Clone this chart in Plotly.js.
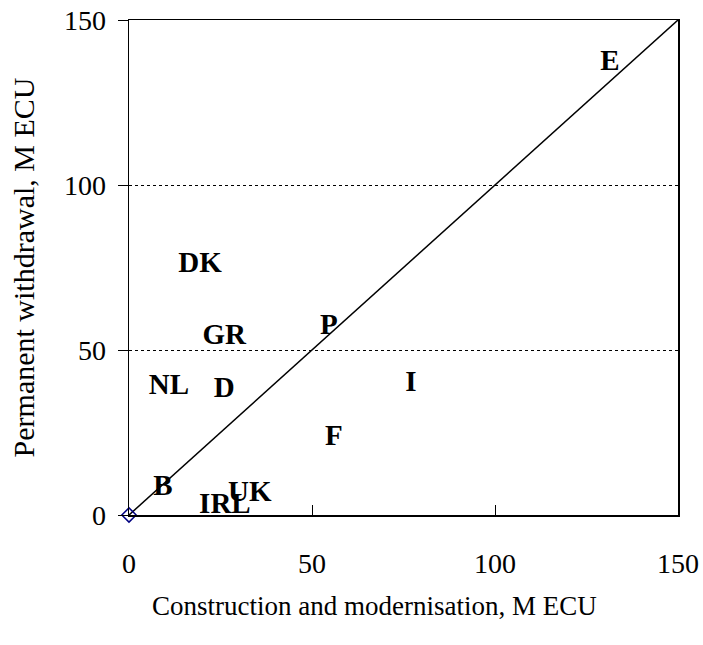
<!DOCTYPE html>
<html>
<head>
<meta charset="utf-8">
<script src="https://cdn.plot.ly/plotly-3.0.1.min.js"></script>
<style>html,body{margin:0;padding:0;background:#fff;}#chart{width:703px;height:645px;}</style>
</head>
<body>
<div id="chart"></div>
<script>
const countries = ['E','DK','GR','P','NL','D','I','F','B','IRL','UK'];
const construction = [131.4, 19.4, 26, 54.6, 10.9, 26, 77, 56, 9.3, 26.2, 33];
const withdrawal = [137, 75.8, 54, 57, 38.8, 37.9, 39.7, 23.3, 8.2, 2.7, 6.4];
const diagX = [0, 153];
const diagY = [0, 153];
const originX = [0];
const originY = [0];
const xTicks = [0, 50, 100, 150];
const yTicks = [0, 50, 100, 150];
const xTitle = 'Construction and modernisation, M ECU';
const yTitle = 'Permanent withdrawal, M ECU';

const serif = '"Liberation Serif", "Times New Roman", serif';

const traces = [
  {x: diagX, y: diagY, mode: 'lines', line: {color: '#000', width: 1.5}, hoverinfo: 'skip', cliponaxis: false},
  {x: originX, y: originY, mode: 'markers', marker: {symbol: 'diamond-open', size: 11, color: '#000080', line: {width: 1.5}}, cliponaxis: false},
  {x: construction, y: withdrawal, mode: 'text', text: countries, cliponaxis: false,
   textfont: {family: serif, size: 29, color: '#000', weight: 'bold'}}
];

const layout = {
  width: 703, height: 645,
  margin: {l: 129, r: 25, t: 20, b: 130},
  showlegend: false,
  paper_bgcolor: '#fff', plot_bgcolor: '#fff',
  font: {family: serif, size: 27, color: '#000'},
  xaxis: {
    range: [0, 150], tickvals: xTicks, ticktext: xTicks.map(String),
    showline: true, linecolor: '#000', linewidth: 1.5, mirror: true,
    ticks: 'inside', ticklen: 10, tickcolor: '#000', tickwidth: 1,
    showgrid: false, zeroline: false, ticklabelstandoff: 23,
    tickfont: {family: serif, size: 28}
  },
  yaxis: {
    range: [0, 150], tickvals: yTicks, ticktext: yTicks.map(String),
    showline: true, linecolor: '#000', linewidth: 1.5, mirror: true,
    ticks: 'outside', ticklen: 10, tickcolor: '#000', tickwidth: 1,
    showgrid: true, gridcolor: '#000', griddash: 'dot', gridwidth: 1,
    zeroline: false, ticklabelstandoff: 6,
    tickfont: {family: serif, size: 28},
    title: {text: yTitle, font: {family: serif, size: 30}, standoff: 20}
  },
  annotations: [
    {text: xTitle, xref: 'paper', yref: 'paper', x: 0.448, y: -0.184,
     xanchor: 'center', yanchor: 'middle', showarrow: false,
     font: {family: serif, size: 27, color: '#000'}}
  ]
};

Plotly.newPlot('chart', traces, layout, {displayModeBar: false, staticPlot: true});
</script>
</body>
</html>
